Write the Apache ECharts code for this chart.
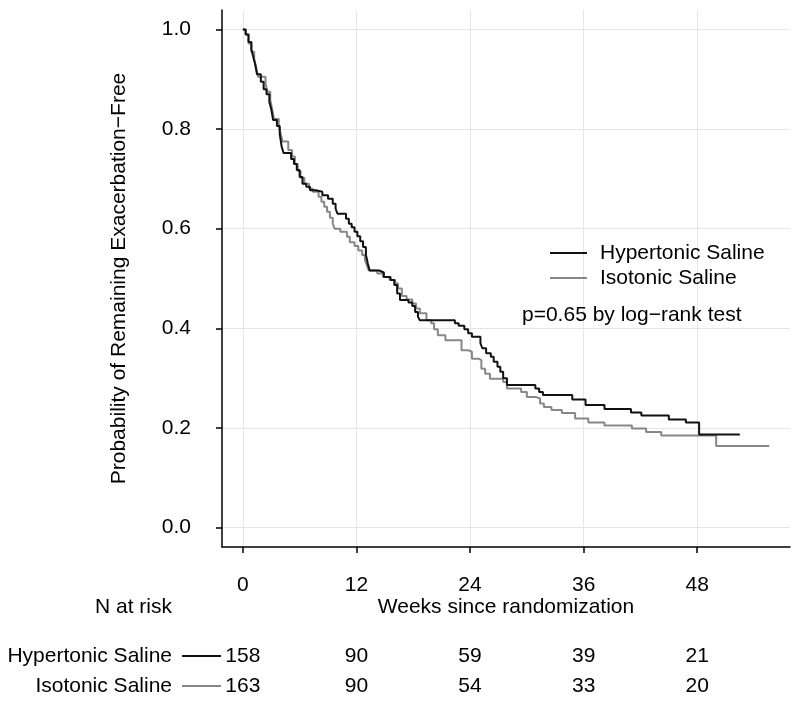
<!DOCTYPE html>
<html>
<head>
<meta charset="utf-8">
<script src="https://cdn.jsdelivr.net/npm/echarts@6/dist/echarts.min.js"></script>
<style>
  html, body { margin: 0; background: #fff; }
  #chart { width: 800px; height: 702px; }
</style>
</head>
<body>
<div id="chart"></div>
<script>
// axis ticks and risk table
const weekTicks = [0, 12, 24, 36, 48];
const probTicks = [0, 0.2, 0.4, 0.6, 0.8, 1.0];
const riskHyper = [158, 90, 59, 39, 21];
const riskIso = [163, 90, 54, 33, 20];

// Kaplan-Meier steps, hypertonic saline (week, survival after event)
const hyperTimes = [0, 0.3, 0.6, 0.9, 1.1, 1.3, 1.5, 1.9, 2.2, 2.5, 2.8, 3.0, 3.2, 3.6, 3.9, 4.1, 4.3,
  5.1, 5.4, 5.7, 6.0, 6.3, 6.7, 7.1, 7.7, 8.4, 9.0, 9.5, 9.8, 10.0, 10.9, 11.2, 11.5, 11.8,
  12.1, 12.4, 12.7, 13.0, 13.2, 13.4, 14.4, 14.9, 15.6, 16.0, 16.3, 16.6, 17.5, 17.9, 18.2,
  18.5, 18.7, 22.4, 22.8, 23.4, 23.8, 24.2, 25.1, 25.3, 25.7, 26.2, 26.5, 26.9, 27.2, 27.5,
  27.9, 30.9, 31.3, 31.7, 34.8, 36.2, 38.2, 41.0, 42.1, 45.0, 46.8, 48.2, 52.5];
const hyperSurv = [1.0, 0.99, 0.975, 0.96, 0.945, 0.93, 0.91, 0.895, 0.88, 0.87, 0.855, 0.84, 0.818, 0.806, 0.79, 0.765, 0.752,
  0.74, 0.73, 0.718, 0.704, 0.69, 0.684, 0.677, 0.674, 0.667, 0.66, 0.65, 0.64, 0.63, 0.62, 0.61, 0.603, 0.594,
  0.585, 0.575, 0.563, 0.548, 0.53, 0.516, 0.512, 0.503, 0.497, 0.487, 0.47, 0.457, 0.452, 0.445, 0.433,
  0.423, 0.416, 0.41, 0.405, 0.398, 0.39, 0.383, 0.37, 0.36, 0.35, 0.343, 0.333, 0.323, 0.313, 0.3,
  0.286, 0.279, 0.272, 0.266, 0.257, 0.246, 0.238, 0.231, 0.225, 0.217, 0.211, 0.187, 0.187];

// Kaplan-Meier steps, isotonic saline
const isoTimes = [0, 0.3, 0.6, 0.9, 1.2, 1.4, 1.6, 2.4, 2.6, 2.9, 3.1, 3.3, 3.8, 4.0, 4.2, 4.8, 5.2, 5.5,
  5.8, 6.1, 6.5, 7.0, 7.4, 8.0, 8.3, 8.6, 8.9, 9.2, 9.5, 9.7, 10.3, 11.0, 11.3, 11.8, 12.2, 12.6,
  12.9, 13.1, 13.3, 14.2, 14.8, 15.5, 16.1, 16.4, 16.8, 17.3, 17.9, 18.3, 18.7, 19.4, 19.9, 20.2,
  20.6, 21.4, 23.1, 23.8, 24.2, 24.9, 25.2, 25.6, 26.1, 27.5, 27.9, 29.4, 30.0, 31.0, 31.4, 31.8,
  32.6, 33.7, 35.1, 36.5, 38.2, 41.1, 42.6, 44.2, 50.0, 55.6];
const isoSurv = [1.0, 0.99, 0.972, 0.955, 0.94, 0.925, 0.905, 0.89, 0.875, 0.858, 0.84, 0.82, 0.805, 0.79, 0.775, 0.758, 0.745, 0.73,
  0.716, 0.702, 0.69, 0.68, 0.674, 0.664, 0.654, 0.644, 0.634, 0.622, 0.61, 0.6, 0.594, 0.584, 0.573, 0.565, 0.556, 0.547,
  0.537, 0.527, 0.516, 0.51, 0.503, 0.497, 0.49, 0.48, 0.465, 0.458, 0.45, 0.44, 0.43, 0.416, 0.41, 0.398,
  0.386, 0.376, 0.356, 0.353, 0.339, 0.336, 0.319, 0.309, 0.299, 0.292, 0.279, 0.272, 0.262, 0.259, 0.249, 0.242,
  0.236, 0.23, 0.219, 0.211, 0.205, 0.199, 0.192, 0.185, 0.164, 0.164];

const FONT = '"Liberation Sans", Arial, Helvetica, sans-serif';
const HYPER_COLOR = '#111';
const ISO_COLOR = '#878787';
const pairs = (ts, vs) => ts.map((t, i) => [t, vs[i]]);

const chart = echarts.init(document.getElementById('chart'));

chart.setOption({
  backgroundColor: '#fff',
  animation: false,
  textStyle: { fontFamily: FONT },
  grid: { left: 222, right: 10, top: 10, bottom: 155 },
  legend: {
    data: ['Hypertonic Saline', 'Isotonic Saline'],
    orient: 'vertical',
    left: 545,
    top: 236,
    icon: 'rect',
    itemWidth: 37,
    itemHeight: 2,
    itemGap: 1,
    textStyle: { fontSize: 21, lineHeight: 24, color: '#000', fontFamily: FONT, padding: [0, 0, 0, 8] }
  },
  xAxis: {
    type: 'value',
    min: -2.2,
    max: 57.8,
    axisLine: { show: true, onZero: false, lineStyle: { color: '#000', width: 1.5 } },
    axisTick: { show: true, length: 6, customValues: weekTicks, lineStyle: { color: '#000', width: 1.5 } },
    splitLine: { show: true, lineStyle: { color: '#e6e6e6', width: 1 } },
    axisLabel: {
      customValues: weekTicks,
      margin: 26,
      formatter: function (v) {
        let i = weekTicks.indexOf(v);
        return '{tk|' + v + '}\n{gap|}\n{n|' + riskHyper[i] + '}\n{n|' + riskIso[i] + '}';
      },
      rich: {
        tk: { fontSize: 21, lineHeight: 24, color: '#000', fontFamily: FONT },
        gap: { height: 44, lineHeight: 44 },
        n: { fontSize: 21, lineHeight: 30, color: '#000', fontFamily: FONT }
      }
    }
  },
  yAxis: {
    type: 'value',
    min: -0.039,
    max: 1.039,
    axisLine: { show: true, onZero: false, lineStyle: { color: '#000', width: 1.5 } },
    axisTick: { show: true, length: 6, customValues: probTicks, lineStyle: { color: '#000', width: 1.5 } },
    splitLine: { show: true, lineStyle: { color: '#e6e6e6', width: 1 } },
    axisLabel: {
      customValues: probTicks,
      margin: 31,
      fontSize: 21,
      color: '#000',
      formatter: v => v.toFixed(1)
    },
    name: 'Probability of Remaining Exacerbation\u2212Free',
    nameLocation: 'middle',
    nameGap: 92,
    nameTextStyle: { fontSize: 21, color: '#000', fontFamily: FONT }
  },
  series: [{
    name: 'Isotonic Saline',
    type: 'line',
    step: 'end',
    showSymbol: false,
    symbol: 'none',
    color: ISO_COLOR,
    lineStyle: { color: ISO_COLOR, width: 2 },
    data: pairs(isoTimes, isoSurv)
  }, {
    name: 'Hypertonic Saline',
    type: 'line',
    step: 'end',
    showSymbol: false,
    symbol: 'none',
    color: HYPER_COLOR,
    lineStyle: { color: HYPER_COLOR, width: 2 },
    data: pairs(hyperTimes, hyperSurv)
  }],
  graphic: [
    { type: 'text', left: 522, top: 305, z: 100, style: { text: 'p=0.65 by log\u2212rank test', font: '21px ' + FONT, fill: '#000' } },
    { type: 'text', x: 506, y: 607, style: { text: 'Weeks since randomization', font: '21px ' + FONT, fill: '#000', align: 'center', verticalAlign: 'middle' } },
    { type: 'text', x: 172, y: 607, style: { text: 'N at risk', font: '21px ' + FONT, fill: '#000', align: 'right', verticalAlign: 'middle' } },
    { type: 'text', x: 172, y: 656, style: { text: 'Hypertonic Saline', font: '21px ' + FONT, fill: '#000', align: 'right', verticalAlign: 'middle' } },
    { type: 'line', shape: { x1: 182, y1: 656, x2: 221, y2: 656 }, style: { stroke: HYPER_COLOR, lineWidth: 2 } },
    { type: 'text', x: 172, y: 686, style: { text: 'Isotonic Saline', font: '21px ' + FONT, fill: '#000', align: 'right', verticalAlign: 'middle' } },
    { type: 'line', shape: { x1: 182, y1: 686, x2: 221, y2: 686 }, style: { stroke: ISO_COLOR, lineWidth: 2 } }
  ]
});
</script>
</body>
</html>
